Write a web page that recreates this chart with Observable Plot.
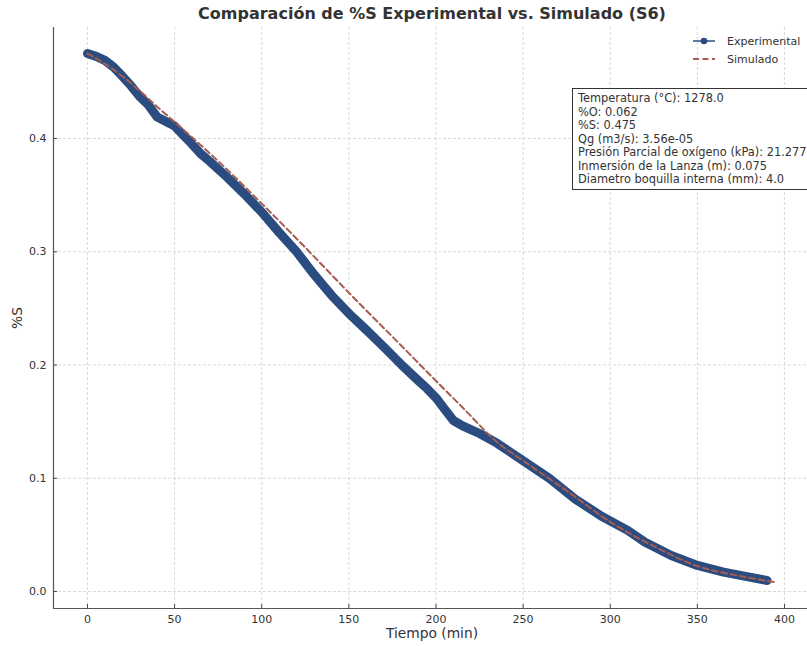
<!DOCTYPE html>
<html><head><meta charset="utf-8">
<script src="https://cdn.jsdelivr.net/npm/d3@7"></script>
<script src="https://cdn.jsdelivr.net/npm/@observablehq/plot@0.6"></script>
<style>
body{margin:0;background:#fff;font-family:"DejaVu Sans",sans-serif;}
#wrap{position:relative;width:807px;height:646px;overflow:hidden;background:#fff;}
.ov{position:absolute;color:#333;white-space:nowrap;line-height:1;}
</style></head><body><div id="wrap"></div>
<script>
// ---- data ----
const expTime = [0,5,10,15,20,25,30,35,40,45,50,55,60,65,70,80,90,100,110,120,130,140,150,160,170,180,190,195,200,205,210,215,220,225,235,250,265,280,295,310,320,335,350,365,380,390];
const expS    = [0.475,0.4725,0.469,0.463,0.455,0.4465,0.437,0.4295,0.419,0.415,0.411,0.403,0.395,0.3865,0.380,0.366,0.351,0.335,0.317,0.300,0.280,0.2616,0.2455,0.231,0.216,0.2005,0.186,0.179,0.171,0.161,0.151,0.1465,0.143,0.1395,0.131,0.1155,0.100,0.0815,0.0665,0.054,0.0435,0.0318,0.023,0.0171,0.0127,0.0097];
const simTime = [0,10,20,30,40,50,60,75,100,125,150,180,200,216,235,250,275,300,325,350,375,395];
const simS    = [0.475,0.466,0.455,0.442,0.428,0.4146,0.401,0.380,0.3425,0.3037,0.2638,0.2172,0.186,0.1613,0.132,0.1155,0.089,0.0615,0.040,0.0225,0.0135,0.0082];
const xTicks = [0,50,100,150,200,250,300,350,400];
const yTicks = [0,0.1,0.2,0.3,0.4];
const seriesNames = ["Experimental","Simulado"];
const titleText = "Comparación de %S Experimental vs. Simulado (S6)";
const xLabel = "Tiempo (min)";
const yLabel = "%S";
const infoLines = [
  "Temperatura (°C): 1278.0",
  "%O: 0.062",
  "%S: 0.475",
  "Qg (m3/s): 3.56e-05",
  "Presión Parcial de oxígeno (kPa): 21.277",
  "Inmersión de la Lanza (m): 0.075",
  "Diametro boquilla interna (mm): 4.0"
];
const colors = {exp:"#2a4c80", sim:"#a65c4e"};

// ---- layout ----
const W=807,H=646,mL=53,mT=27,mB=38,mR=0;
const frameW=W-mL-mR, frameH=H-mT-mB;
const xDomain=[-19.5,413.2], yDomain=[-0.015,0.498];

const expData = expTime.map((t,i)=>({t, s:expS[i]}));
const simData = simTime.map((t,i)=>({t, s:simS[i]}));

const plot = Plot.plot({
  width:W, height:H, marginLeft:mL, marginTop:mT, marginBottom:mB, marginRight:mR,
  style:{fontFamily:"DejaVu Sans, sans-serif", fontSize:"11px", color:"#333", background:"#fff", overflow:"visible"},
  x:{domain:xDomain},
  y:{domain:yDomain},
  marks:[
    Plot.gridX(xTicks,{stroke:"#c4c4c4", strokeOpacity:0.8, strokeDasharray:"3,2", strokeWidth:0.8}),
    Plot.gridY(yTicks,{stroke:"#c4c4c4", strokeOpacity:0.8, strokeDasharray:"3,2", strokeWidth:0.8}),
    Plot.line(expData,{x:"t", y:"s", stroke:colors.exp, strokeWidth:9, strokeLinecap:"round", strokeLinejoin:"round"}),
    Plot.line(simData,{x:"t", y:"s", stroke:colors.sim, strokeWidth:2, strokeDasharray:"6,3.5", curve:"monotone-x"}),
    Plot.axisX(xTicks,{tickSize:0, tickPadding:7, tickFormat:d=>String(d), label:null}),
    Plot.axisY(yTicks,{tickSize:0, tickPadding:7, tickFormat:d3.format(".1f"), label:null}),
    Plot.ruleX(xTicks,{x:d=>d, insetTop:frameH-4, stroke:"#444", strokeWidth:1}),
    Plot.ruleY(yTicks,{y:d=>d, insetRight:frameW-4, stroke:"#444", strokeWidth:1}),
    Plot.ruleX([xDomain[0]],{stroke:"#555", strokeWidth:1.2}),
    Plot.ruleY([yDomain[0]],{stroke:"#555", strokeWidth:1.2})
  ]
});
const wrap=document.getElementById("wrap");
wrap.appendChild(plot);

function ov(html, css){const d=document.createElement("div");d.className="ov";d.innerHTML=html;Object.assign(d.style,css);wrap.appendChild(d);return d;}
ov(titleText,{left:"432px",top:"6px",transform:"translateX(-50%)",fontWeight:"bold",fontSize:"16px",color:"#333"});
ov(xLabel,{left:"432px",top:"627px",transform:"translateX(-50%)",fontSize:"13.8px"});
ov(yLabel,{left:"18px",top:"318px",transform:"translate(-50%,-50%) rotate(-90deg)",fontSize:"13.8px"});

// legend
const leg = `
<div style="display:flex;align-items:center;height:18px">
 <svg width="26" height="10" style="margin-right:8px"><line x1="0" y1="5" x2="22" y2="5" stroke="${colors.exp}" stroke-width="1.5"/><circle cx="11" cy="5" r="3.3" fill="${colors.exp}"/></svg>
 <span>${seriesNames[0]}</span></div>
<div style="display:flex;align-items:center;height:18px">
 <svg width="26" height="10" style="margin-right:8px"><line x1="0" y1="5" x2="22" y2="5" stroke="${colors.sim}" stroke-width="2" stroke-dasharray="6,3.5"/></svg>
 <span>${seriesNames[1]}</span></div>`;
ov(leg,{left:"693px",top:"32px",fontSize:"11px"});

// info box
ov(infoLines.map(s=>`<div style="height:13.5px;line-height:13.5px">${s}</div>`).join(""),
  {left:"572px",top:"88px",width:"260px",height:"102px",border:"1px solid #333",background:"#fff",padding:"3px 5px 2px 5px",fontSize:"11.4px",boxSizing:"border-box"});
</script></body></html>
